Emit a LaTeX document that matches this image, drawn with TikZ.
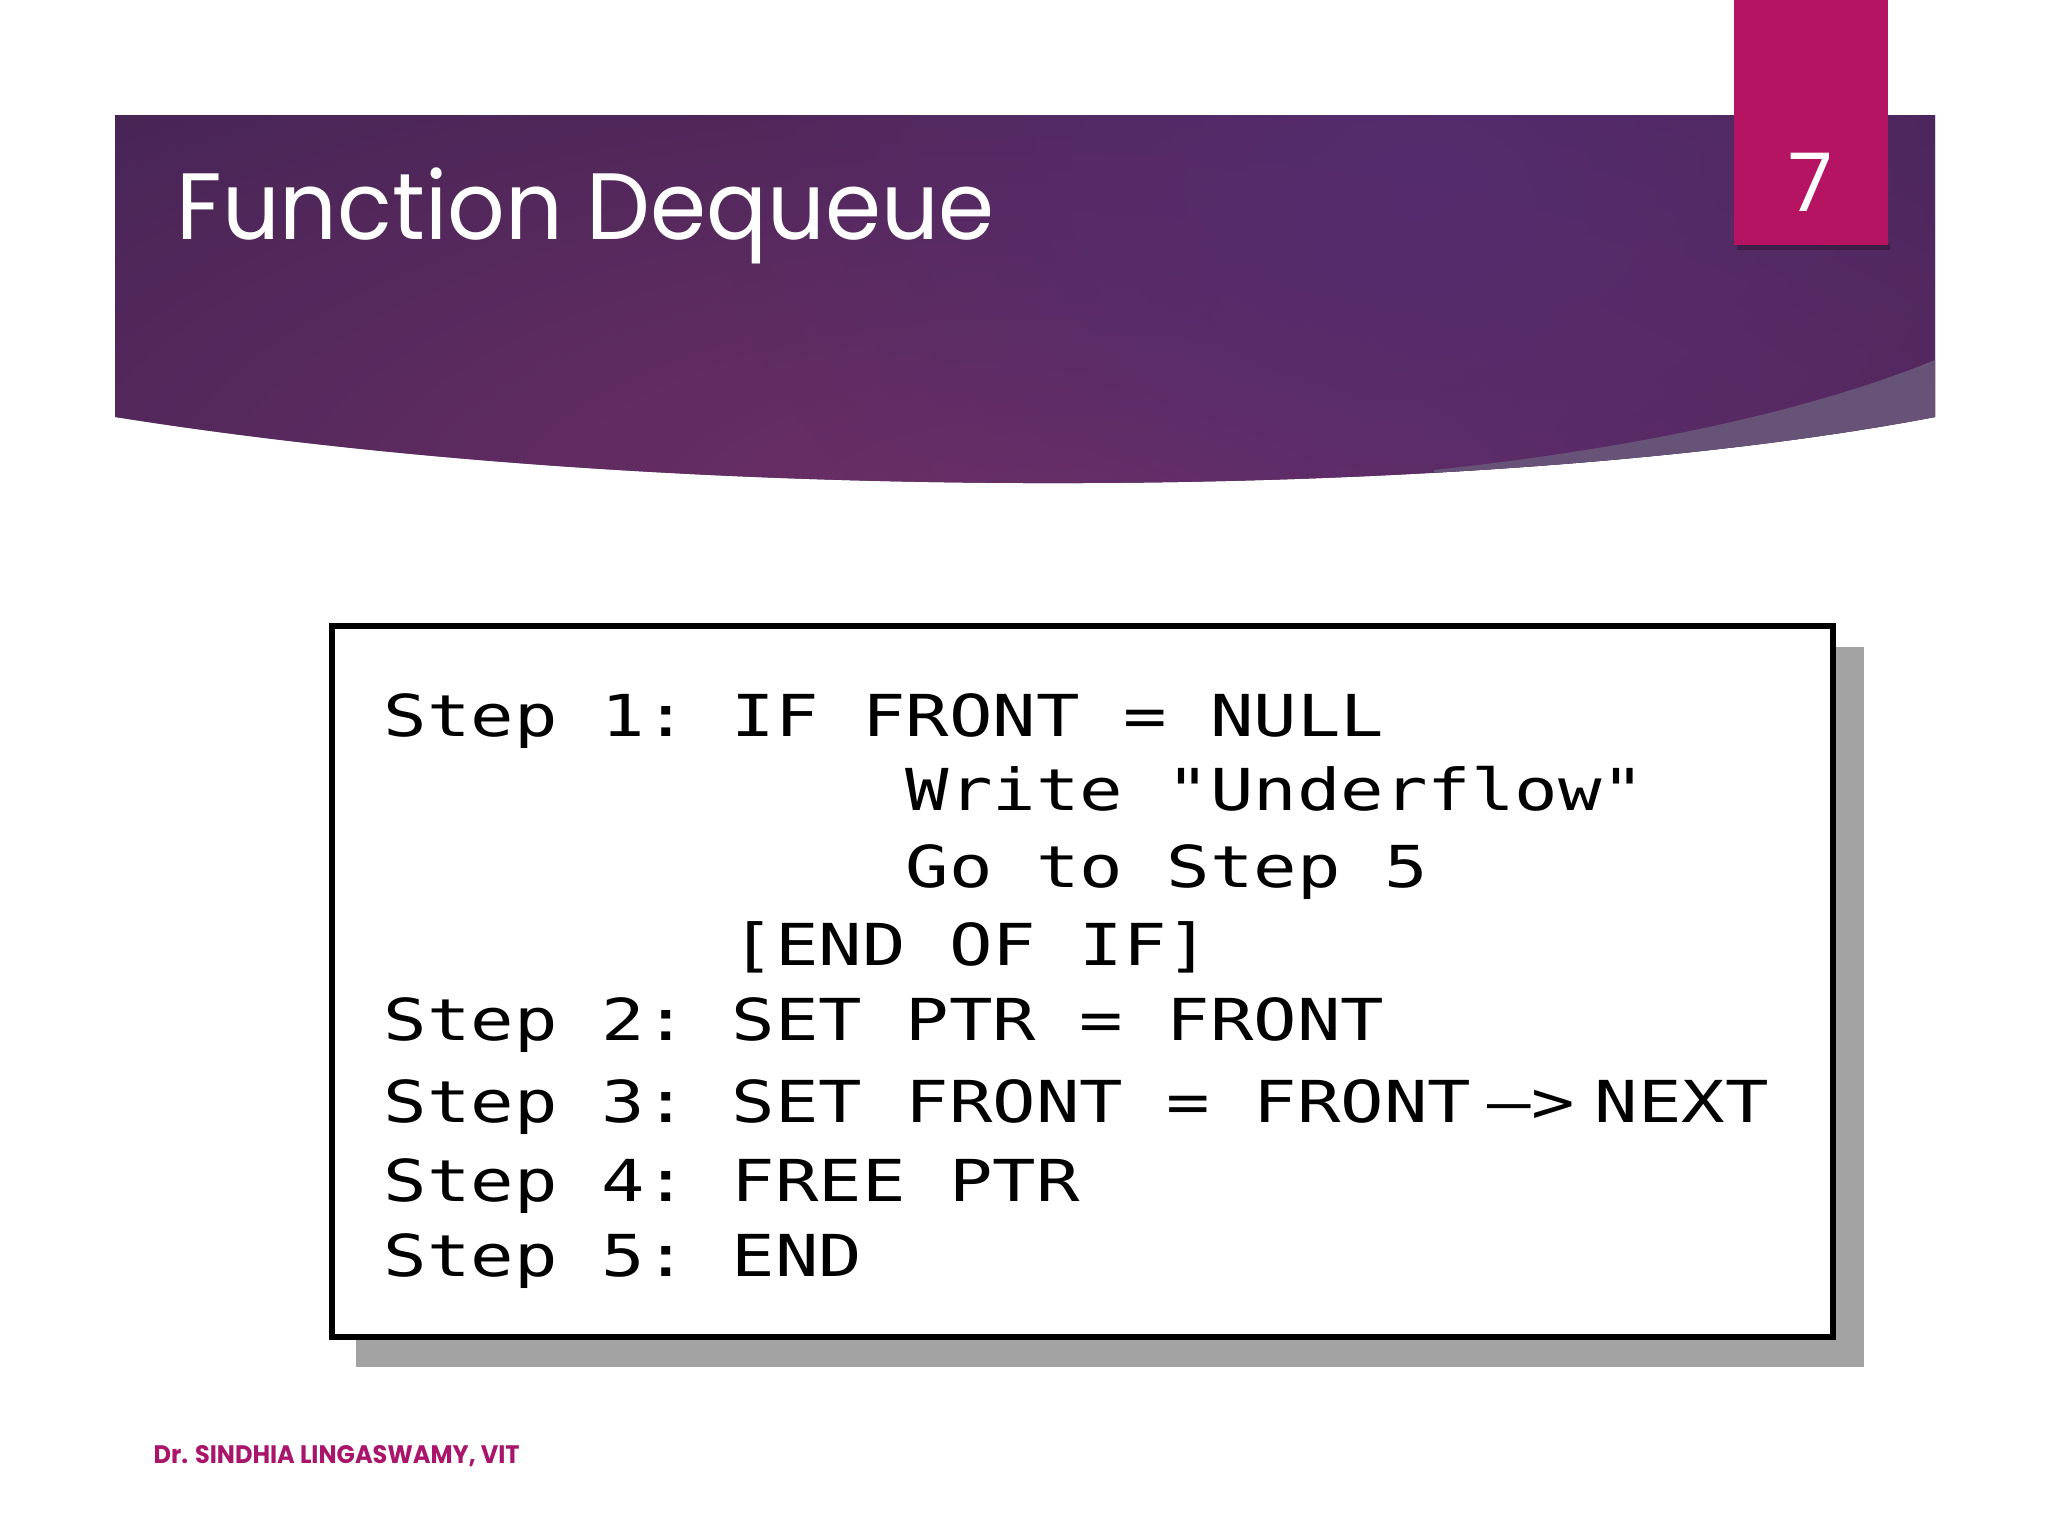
\documentclass[tikz,border=0pt]{standalone}
\usepackage{fontspec}
\setmainfont{Poppins}
\setmonofont{DejaVu Sans Mono}
\usetikzlibrary{fadings}
\definecolor{bandark}{HTML}{3A2150}
\definecolor{banglow}{HTML}{6E3068}
\definecolor{banblue}{HTML}{552C6E}
\definecolor{sheen}{HTML}{665377}
\definecolor{pagebox}{HTML}{B51463}
\definecolor{footc}{HTML}{A8156B}
\definecolor{shadowgray}{HTML}{A3A3A3}
\tikzfading[name=glow, inner color=transparent!0, outer color=transparent!100]
\newcommand\codefont{\fontsize{20.55pt}{24pt}\ttfamily}
\newcommand\codeln[1]{\scalebox{1}[0.8]{#1}}
\begin{document}
\begin{tikzpicture}[x=0.01cm,y=-0.01cm,
  codeline/.style={anchor=base west, inner sep=0pt, font=\codefont, text=black},
  titletext/.style={anchor=base west, inner sep=0pt, text=white, font=\fontsize{26.8pt}{30pt}\selectfont},
  pagenum/.style={anchor=base, inner sep=0pt, text=white, font=\fontsize{23pt}{28pt}\selectfont},
  footer/.style={anchor=base west, inner sep=0pt, text=footc, font=\fontsize{7.2pt}{9pt}\selectfont\bfseries}]
\useasboundingbox (0,0) rectangle (2048,1536);
\fill[white] (0,0) rectangle (2048,1536);
% banner
\fill[bandark] (115,115) -- (1935,115) -- (1935,417) .. controls (1500,500) and (700,510) .. (115,417) -- cycle;
\begin{scope}
  \clip (115,115) -- (1935,115) -- (1935,417) .. controls (1500,500) and (700,510) .. (115,417) -- cycle;
  \fill[banglow, path fading=glow] (1050,520) ellipse [x radius=1900, y radius=760];
  \fill[banblue, path fading=glow] (1420,190) ellipse [x radius=700, y radius=500];
  \fill[sheen] (1935,360) .. controls (1800,415) and (1620,450) .. (1434,470) -- (1434,600) -- (1935,600) -- cycle;
\end{scope}
% page number box
\fill[black, opacity=0.25] (1737,244) rectangle (1890,250);
\fill[pagebox] (1734,0) rectangle (1888,245);
\node[pagenum] (num) at (1811,211) {7};
% title
\node[titletext] (title) at (176,239) {\scalebox{0.957}[1]{Function Dequeue}};
% code box
\fill[shadowgray] (356,647) rectangle (1864,1367);
\draw[line width=0.06cm, fill=white] (332,626) rectangle (1833,1337);
\node[codeline] (l1) at (383,736) {\codeln{Step~1:~IF~FRONT~=~NULL}};
\node[codeline] (l2) at (383,810) {\codeln{~~~~~~~~~~~~Write~"Underflow"}};
\node[codeline] (l3) at (383,887) {\codeln{~~~~~~~~~~~~Go~to~Step~5}};
\node[codeline] (l4) at (383,965) {\codeln{~~~~~~~~[END~OF~IF]}};
\node[codeline] (l5) at (383,1040) {\codeln{Step~2:~SET~PTR~=~FRONT}};
\node[codeline] (l6) at (383,1122) {\codeln{Step~3:~SET~FRONT~=~FRONT}};
\node[codeline] (l6a) at (1487,1122) {\codeln{–>}};
\node[codeline] (l6b) at (1594,1122) {\codeln{NEXT}};
\node[codeline] (l7) at (383,1201) {\codeln{Step~4:~FREE~PTR}};
\node[codeline] (l8) at (383,1276) {\codeln{Step~5:~END}};
% footer
\node[footer] (foot) at (153,1463) {\scalebox{0.95}[1]{Dr. SINDHIA LINGASWAMY, VIT}};
\end{tikzpicture}
\end{document}
